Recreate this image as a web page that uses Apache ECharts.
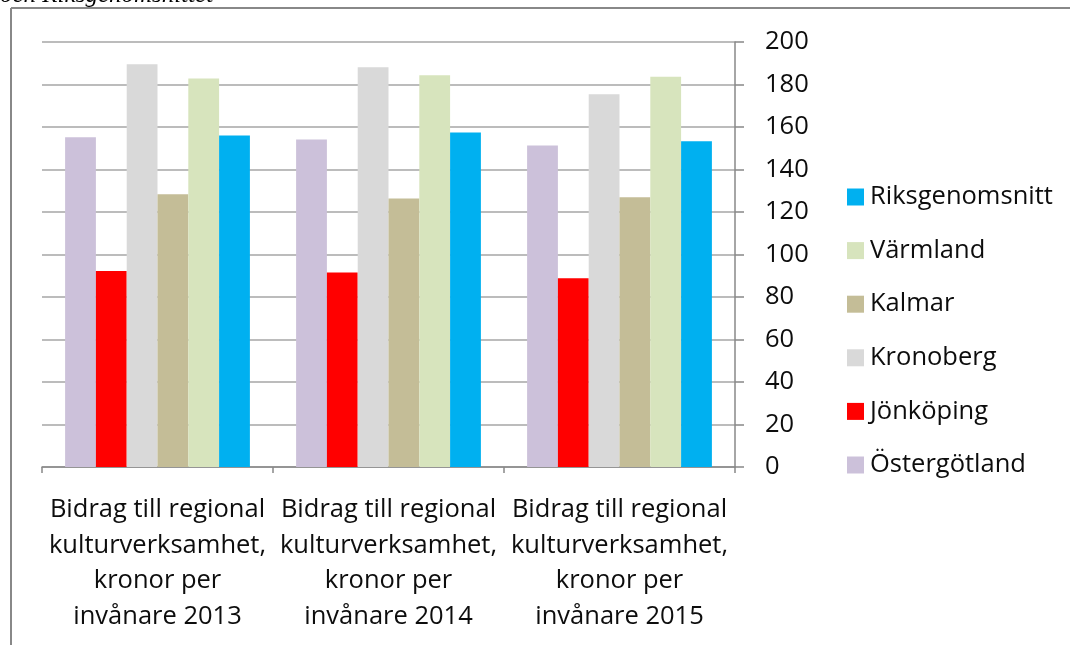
<!DOCTYPE html>
<html>
<head>
<meta charset="utf-8">
<script src="https://cdn.jsdelivr.net/npm/echarts@6/dist/echarts.min.js"></script>
<style>
  html, body { margin: 0; padding: 0; background: #fff; }
  #chart { width: 1070px; height: 645px; }
</style>
</head>
<body>
<div id="chart"></div>
<script>
const categories = [
  'Bidrag till regional\nkulturverksamhet,\nkronor per\ninvånare 2013',
  'Bidrag till regional\nkulturverksamhet,\nkronor per\ninvånare 2014',
  'Bidrag till regional\nkulturverksamhet,\nkronor per\ninvånare 2015'
];
const seriesNames = ['Östergötland', 'Jönköping', 'Kronoberg', 'Kalmar', 'Värmland', 'Riksgenomsnitt'];
const ostergotland = [155.2, 154.1, 151.3];
const jonkoping = [92.2, 91.5, 88.8];
const kronoberg = [189.5, 188.1, 175.4];
const kalmar = [128.3, 126.4, 127.0];
const varmland = [182.8, 184.4, 183.6];
const riksgenomsnitt = [156.0, 157.4, 153.3];
const yTicks = [0, 20, 40, 60, 80, 100, 120, 140, 160, 180, 200];

const seriesData = [ostergotland, jonkoping, kronoberg, kalmar, varmland, riksgenomsnitt];
const colors = ['#CCC1DA', '#FF0000', '#D9D9D9', '#C4BD97', '#D7E4BD', '#00B0F0'];
const font = "'Open Sans', 'Liberation Sans', sans-serif";
const textColor = '#0d0d0d';

const chart = echarts.init(document.getElementById('chart'), null, { renderer: 'canvas' });
chart.setOption({
  animation: false,
  backgroundColor: '#fff',
  graphic: [
    { type: 'text', left: 0, top: -17, style: { text: 'och Riksgenomsnittet', font: 'italic 25px "Liberation Serif", "DejaVu Serif", serif', fill: '#000' } },
    { type: 'line', shape: { x1: 11, y1: 8, x2: 1070, y2: 8 }, style: { stroke: '#888', lineWidth: 2 } },
    { type: 'line', shape: { x1: 11, y1: 8, x2: 11, y2: 645 }, style: { stroke: '#888', lineWidth: 2 } }
  ],
  grid: { left: 42, right: 335, top: 42, bottom: 178, containLabel: false },
  legend: {
    orient: 'vertical',
    left: 842,
    top: 179,
    itemWidth: 17,
    itemHeight: 17,
    itemGap: 27.6,
    icon: 'rect',
    data: seriesNames.slice().reverse(),
    textStyle: { fontFamily: font, fontSize: 25.5, color: textColor, lineHeight: 26, padding: [0, 0, 0, 1] }
  },
  xAxis: {
    type: 'category',
    data: categories,
    axisLine: { show: true, lineStyle: { color: '#888', width: 1.5 } },
    axisTick: { show: true, length: 6, lineStyle: { color: '#888', width: 1.5 } },
    axisLabel: { interval: 0, margin: 25, fontFamily: font, fontSize: 25.5, lineHeight: 35.5, color: textColor, align: 'center' }
  },
  yAxis: {
    type: 'value',
    position: 'right',
    min: 0,
    max: 200,
    interval: 20,
    axisLine: { show: true, lineStyle: { color: '#888', width: 1.5 } },
    axisTick: { show: true, length: 9, lineStyle: { color: '#888', width: 1.5 } },
    splitLine: { show: true, lineStyle: { color: '#a6a6a6', width: 1.5 } },
    axisLabel: {
      margin: 30,
      fontFamily: font,
      fontSize: 25.5,
      color: textColor,
      formatter: v => yTicks.includes(v) ? String(v) : ''
    }
  },
  series: seriesNames.map((name, i) => ({
    name: name,
    type: 'bar',
    data: seriesData[i],
    barGap: '0%',
    barCategoryGap: '20%',
    itemStyle: { color: colors[i] }
  }))
});
</script>
</body>
</html>
